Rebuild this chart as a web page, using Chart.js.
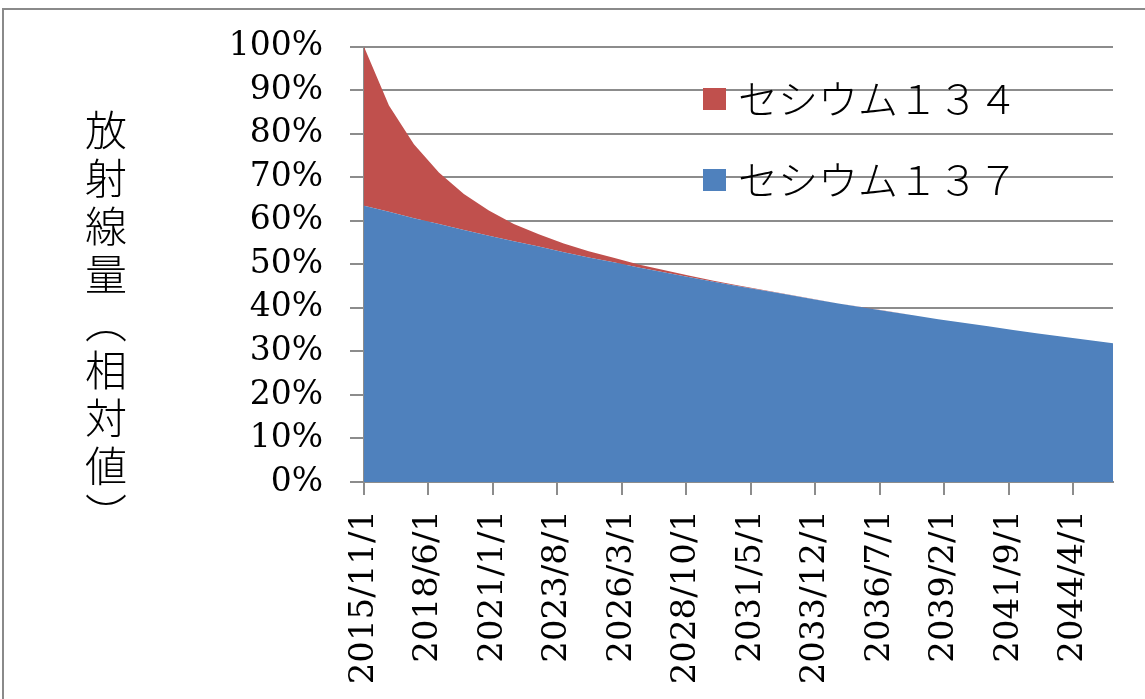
<!DOCTYPE html>
<html>
<head>
<meta charset="utf-8">
<script src="https://cdn.jsdelivr.net/npm/chart.js@4"></script>
<style>
  body { margin: 0; background: #fff; overflow: hidden; }
  #wrap { position: relative; width: 1145px; height: 699px; }
  #frame { position: absolute; left: 2px; top: 8px; width: 1200px; height: 800px;
           border-top: 2px solid #8a8a8a; border-left: 2px solid #8a8a8a; pointer-events: none; }
</style>
</head>
<body>
<div id="wrap">
  <canvas id="doseChart" width="1145" height="699"></canvas>
  <div id="frame"></div>
</div>
<script>
// months since 2015/11/1
const months = [0, 12, 24, 36, 48, 60, 72, 84, 96, 108, 120, 132, 144, 156, 168, 180,
                192, 204, 216, 228, 240, 252, 264, 276, 288, 300, 312, 324, 336, 348, 360];
const cs137 = [63.5, 62.1, 60.6, 59.3, 57.9, 56.6, 55.3, 54.1, 52.8, 51.6, 50.5, 49.3, 48.2, 47.1, 46.0, 45.0,
               44.0, 43.0, 42.0, 41.0, 40.1, 39.2, 38.3, 37.4, 36.6, 35.8, 34.9, 34.1, 33.4, 32.6, 31.9];
const cs134 = [36.5, 24.4, 17.0, 11.8, 8.3, 5.8, 4.0, 2.8, 2.0, 1.4, 1.0, 0.7, 0.5, 0.35, 0.25, 0.17,
               0.12, 0.08, 0.06, 0.04, 0.03, 0.02, 0.01, 0.01, 0.01, 0, 0, 0, 0, 0, 0];
const tickMonths = [0, 31, 62, 93, 124, 155, 186, 217, 248, 279, 310, 341];
const tickLabels = ['2015/11/1', '2018/6/1', '2021/1/1', '2023/8/1', '2026/3/1', '2028/10/1',
                    '2031/5/1', '2033/12/1', '2036/7/1', '2039/2/1', '2041/9/1', '2044/4/1'];
const seriesNames = ['セシウム１３７', 'セシウム１３４'];
const yTitle = '放射線量︵相対値︶';

const serif = '"DejaVu Serif", "Noto Sans CJK JP", serif';
const gridGray = '#8c8c8c';

// vertical axis title + legend drawn by hand
const extras = {
    id: 'extras',
    afterDraw(chart) {
        const ctx = chart.ctx;
        ctx.save();
        ctx.fillStyle = '#000';
        ctx.font = '300 42px "Noto Sans CJK JP"';
        ctx.textAlign = 'center';
        ctx.textBaseline = 'middle';
        let y = 130;
        for (const ch of yTitle) {
            ctx.fillText(ch, 106, y);
            y += 48;
        }

        // legend, top series first
        ctx.textAlign = 'left';
        ctx.font = '300 40px "Noto Sans CJK JP"';
        const rows = [1, 0];
        rows.forEach((di, i) => {
            const ds = chart.data.datasets[di];
            const cy = 99 + i * 81;
            ctx.fillStyle = ds.backgroundColor;
            ctx.fillRect(703, cy - 11, 23, 22);
            ctx.fillStyle = '#000';
            ctx.fillText(ds.label, 738, cy);
        });
        ctx.restore();
    }
};

const ctx = document.getElementById('doseChart').getContext('2d');
new Chart(ctx, {
    type: 'line',
    data: {
        datasets: [{
            label: seriesNames[0],
            data: months.map((m, i) => ({ x: m, y: cs137[i] })),
            backgroundColor: '#4F81BD',
            borderWidth: 0,
            pointRadius: 0,
            fill: 'origin',
            tension: 0
        }, {
            label: seriesNames[1],
            data: months.map((m, i) => ({ x: m, y: cs134[i] })),
            backgroundColor: '#C0504D',
            borderWidth: 0,
            pointRadius: 0,
            fill: '-1',
            tension: 0
        }]
    },
    options: {
        responsive: false,
        animation: false,
        devicePixelRatio: 1,
        layout: { padding: { top: 45, right: 32, left: 0, bottom: 0 } },
        plugins: {
            legend: { display: false },
            tooltip: { enabled: false }
        },
        scales: {
            x: {
                type: 'linear',
                min: 0,
                max: 360,
                afterBuildTicks: (scale) => {
                    scale.ticks = tickMonths.map(v => ({ value: v }));
                },
                afterFit: (scale) => { scale.height = 217; },
                grid: { drawOnChartArea: false, drawTicks: true, tickLength: 13, color: gridGray, lineWidth: 2 },
                border: { display: true, color: gridGray, width: 2 },
                ticks: {
                    autoSkip: false,
                    maxRotation: 90,
                    minRotation: 90,
                    padding: 15,
                    color: '#000',
                    font: { family: serif, size: 34 },
                    callback: (v) => tickLabels[tickMonths.indexOf(v)]
                }
            },
            y: {
                stacked: true,
                min: 0,
                max: 100,
                afterFit: (scale) => { scale.width = 364; },
                grid: { color: gridGray, lineWidth: 2, tickLength: 14 },
                border: { display: true, color: gridGray, width: 2 },
                ticks: {
                    stepSize: 10,
                    autoSkip: false,
                    padding: 27,
                    color: '#000',
                    font: { family: serif, size: 33 },
                    callback: (v) => v + '%'
                }
            }
        }
    },
    plugins: [extras]
});
</script>
</body>
</html>
